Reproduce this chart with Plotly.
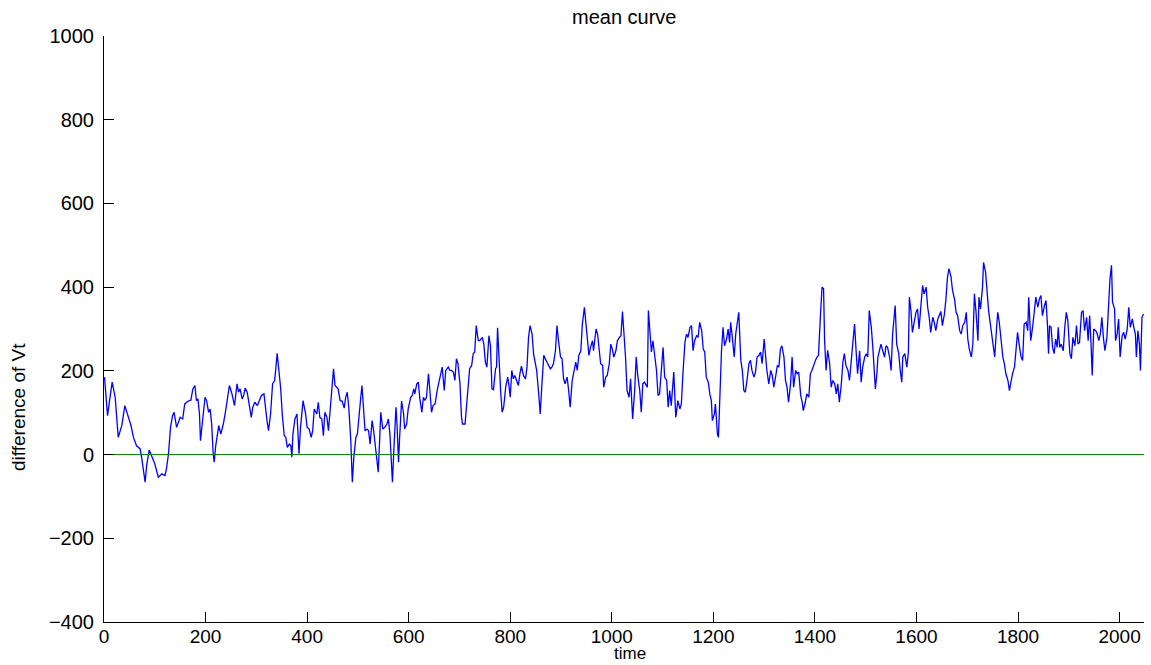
import plotly.graph_objects as go

# Sampled mean curve: time step and difference of Vt
time = [
    1, 7, 16, 22, 28, 35, 41, 48, 53, 58, 64, 71, 74, 81, 84, 89, 94, 100, 107, 114,
    120, 123, 127, 131, 135, 138, 143, 150, 155, 159, 166, 171, 175, 179,
    182, 185, 188, 190, 192, 199, 202, 206, 209, 212, 215, 217, 220, 223, 226, 230,
    235, 239, 243, 247, 252, 257, 262, 265, 268, 272, 275, 278, 282, 285, 290, 293,
    297, 302, 306, 310, 315, 318, 321, 324, 328, 332, 336, 338, 341, 345, 348, 351,
    355, 358, 361, 365, 368, 370, 372, 376,
    378, 380, 384, 387, 392, 397, 400, 404, 408, 411, 414, 419, 422, 425, 429, 432,
    435, 439, 442, 445, 448, 452, 455, 458, 461, 465, 469, 473, 476, 479, 482, 486,
    489, 492, 496, 499, 502, 506, 508, 511, 514, 518, 521, 524, 528, 531, 534, 537,
    540, 543, 545, 549,
    553, 557, 560, 563, 565, 568, 571, 575, 577, 580, 582, 586, 590, 592, 596, 599,
    604, 607, 610, 612, 616, 619, 622, 626, 629, 632, 635, 639, 642, 645, 648, 652,
    656, 660, 663, 666, 670, 673, 678, 681, 684, 688, 691, 694, 697, 701, 704, 706,
    711, 714, 717, 720, 724, 727, 730, 733,
    737, 740, 745, 748, 751, 754, 758, 761, 764, 767, 771, 773, 775, 778, 781, 784,
    787, 791, 795, 797, 800, 803, 806, 809, 813, 816, 819, 822, 826, 830, 833, 836,
    839, 843, 846, 849, 852, 856, 859, 862, 866, 869, 872, 875, 879, 882, 885, 889,
    892, 895, 899, 902, 905, 908, 912, 915, 918, 922, 925,
    929, 932, 935, 939, 942, 946, 949, 952, 955, 958, 962, 964, 969, 972, 975, 978,
    982, 984, 988, 991, 995, 998, 1001, 1004, 1008, 1011, 1015, 1018, 1021, 1024, 1027, 1030,
    1034, 1037, 1041, 1045, 1048, 1051, 1055, 1058, 1061, 1064, 1070, 1072, 1075, 1078, 1081, 1085,
    1088, 1091, 1094, 1098, 1101, 1104, 1108, 1111,
    1114, 1117, 1122, 1126, 1130, 1134, 1137, 1140, 1144, 1147, 1150, 1154, 1157, 1160, 1163, 1167,
    1170, 1173, 1177, 1180, 1183, 1186, 1190, 1193, 1196, 1198, 1202, 1204, 1208, 1210, 1213, 1216,
    1219, 1222, 1226, 1229, 1232, 1234, 1237, 1241, 1244, 1247, 1250, 1254, 1257, 1260, 1263, 1267,
    1270, 1273, 1276, 1280, 1283, 1286, 1290, 1293, 1296, 1300, 1303,
    1305, 1309, 1313, 1316, 1319, 1323, 1326, 1329, 1332, 1335, 1339, 1342, 1345, 1348, 1352, 1355,
    1358, 1362, 1365, 1368, 1372, 1375, 1377, 1381, 1384, 1388, 1391, 1394, 1398, 1401, 1404, 1407,
    1411, 1414, 1417, 1419, 1422, 1425, 1429, 1432, 1435, 1439, 1442, 1445, 1448, 1452, 1455, 1458,
    1461, 1465, 1468, 1471, 1474, 1478, 1481, 1484,
    1488, 1491, 1494, 1498, 1501, 1504, 1507, 1511, 1514, 1517, 1519, 1522, 1524, 1530, 1533, 1537,
    1540, 1543, 1547, 1550, 1553, 1558, 1561, 1565, 1568, 1571, 1573, 1577, 1581, 1584, 1586, 1589,
    1592, 1596, 1599, 1602, 1605, 1609, 1612, 1615, 1619, 1622, 1625, 1628, 1632, 1635, 1638, 1642,
    1645, 1648, 1651, 1655, 1658, 1661, 1664, 1668, 1671,
    1675, 1678, 1681, 1685, 1688, 1691, 1695, 1698, 1701, 1704, 1708, 1711, 1714, 1717, 1721, 1723,
    1726, 1730, 1732, 1736, 1739, 1742, 1745, 1749, 1752, 1754, 1758, 1760, 1763, 1766, 1770, 1773,
    1776, 1780, 1783, 1786, 1789, 1793, 1796, 1799, 1803, 1806, 1809, 1812, 1816, 1819, 1821, 1825,
    1829, 1832, 1835, 1839, 1842, 1845, 1848, 1852, 1855, 1858, 1860,
    1862, 1865, 1868, 1871, 1874, 1877, 1879, 1882, 1885, 1889, 1892, 1895, 1898, 1902, 1905, 1908,
    1912, 1915, 1918, 1921, 1925, 1928, 1931, 1935, 1938, 1941, 1944, 1946, 1949, 1953, 1956, 1959,
    1962, 1965, 1968, 1971, 1975, 1978, 1981, 1984, 1986, 1990, 1992, 1995, 1998, 2001, 2005, 2008,
    2011, 2015, 2018, 2021, 2025, 2028, 2031, 2033, 2036, 2039, 2041, 2044, 2047,
]

diff_vt = [
    185, 93, 173, 137, 41, 69, 117, 89, 70, 41, 21, 14, -6, -66, -26, 11, -6, -22, -54, -46,
    -50, -34, 2, 65, 93, 101, 65, 89, 85, 121, 128, 130, 157, 165,
    129, 133, 97, 33, 57, 137, 129, 101, 109, 73, 2, -18, 21, 41, 69, 49,
    73, 101, 133, 165, 145, 117, 169, 149, 157, 133, 141, 159, 149, 125, 89, 113,
    125, 117, 129, 141, 145, 109, 81, 57, 97, 169, 177, 201, 242, 193, 157, 97,
    45, 41, 17, 25, 21, -6, 49, 85,
    93, 97, 2, 65, 129, 97, 65, 61, 41, 57, 109, 97, 125, 89, 85, 45,
    101, 89, 57, 101, 137, 205, 165, 161, 157, 129, 128, 111, 137, 149, 113, 33,
    -66, -6, 41, 49, 97, 141, 165, 101, 57, 61, 57, 25, 81, 57, 25, -18,
    -42, 41, 101, 61,
    65, 73, 85, 49, -6, -66, 17, 113, 73, -18, 37, 128, 97, 61, 73, 109,
    137, 141, 157, 145, 169, 173, 133, 101, 137, 129, 137, 193, 149, 101, 117, 121,
    153, 177, 193, 209, 153, 201, 209, 201, 201, 197, 177, 229, 217, 169, 89, 73,
    73, 121, 177, 205, 213, 241, 245, 308,
    272, 272, 280, 264, 221, 209, 284, 260, 157, 155, 205, 209, 303, 209, 153, 101,
    113, 161, 185, 169, 137, 201, 181, 189, 177, 165, 193, 211, 189, 181, 209, 280,
    308, 288, 240, 217, 201, 145, 97, 161, 237, 229, 221, 213, 205, 209, 217, 248,
    308, 272, 233, 229, 181, 169, 185, 153, 113, 177, 201,
    221, 201, 237, 248, 312, 352, 312, 264, 237, 256, 272, 248, 300, 288, 252, 217,
    213, 161, 185, 189, 217, 264, 252, 233, 248, 272, 280, 284, 342, 296, 233, 153,
    137, 181, 85, 153, 233, 189, 153, 101, 169, 173, 161, 344, 296, 245, 272, 221,
    201, 141, 145, 209, 256, 185, 177, 113,
    153, 117, 197, 89, 129, 109, 121, 193, 268, 288, 280, 304, 308, 248, 272, 284,
    280, 316, 296, 252, 245, 185, 173, 145, 129, 81, 97, 121, 49, 41, 153, 248,
    304, 260, 276, 300, 268, 316, 284, 233, 288, 312, 340, 225, 201, 153, 149, 185,
    217, 225, 201, 185, 197, 233, 237, 245, 217, 276, 229,
    205, 169, 201, 189, 161, 189, 213, 209, 252, 260, 233, 177, 161, 125, 169, 233,
    161, 201, 193, 197, 141, 125, 105, 125, 145, 137, 193, 201, 217, 225, 233, 237,
    336, 400, 396, 272, 201, 249, 217, 161, 177, 169, 145, 169, 125, 169, 221, 241,
    213, 201, 177, 221, 260, 312, 249, 193,
    248, 173, 209, 233, 241, 233, 344, 304, 256, 193, 157, 193, 233, 264, 252, 233,
    260, 256, 233, 201, 288, 356, 264, 241, 201, 173, 233, 241, 209, 245, 376, 344,
    292, 320, 340, 348, 300, 360, 404, 384, 400, 352, 328, 292, 328, 316, 296, 324,
    336, 342, 308, 336, 372, 424, 444, 424, 392,
    370, 340, 332, 296, 288, 308, 316, 340, 276, 252, 233, 264, 384, 344, 272, 376,
    348, 400, 459, 436, 384, 344, 316, 284, 260, 233, 308, 340, 316, 272, 233, 217,
    193, 177, 153, 173, 193, 209, 248, 292, 256, 233, 225, 312, 316, 296, 376, 272,
    308, 336, 376, 352, 372, 380, 332, 356, 368, 308, 241,
    308, 304, 256, 241, 276, 256, 304, 256, 264, 248, 304, 340, 320, 241, 229, 280,
    260, 308, 264, 268, 340, 344, 296, 328, 272, 332, 256, 189, 300, 296, 288, 272,
    288, 328, 280, 248, 280, 352, 420, 452, 364, 348, 272, 288, 324, 233, 284, 292,
    276, 300, 352, 304, 324, 304, 288, 233, 296, 264, 201, 328, 336,
]

# Reference level drawn across the full time span
baseline_t = [0, 2048]
baseline_v = [0, 0]

x_ticks = [0, 200, 400, 600, 800, 1000, 1200, 1400, 1600, 1800, 2000]
y_ticks = [-400, -200, 0, 200, 400, 600, 800, 1000]

font_family = "Liberation Sans, Arial, Helvetica, sans-serif"

fig = go.Figure()
fig.add_trace(go.Scatter(
    x=time, y=diff_vt, mode="lines",
    line=dict(color="#0000ff", width=1.3),
    showlegend=False, hoverinfo="skip",
))
fig.add_trace(go.Scatter(
    x=baseline_t, y=baseline_v, mode="lines",
    line=dict(color="#008000", width=1),
    showlegend=False, hoverinfo="skip",
))

axis_common = dict(
    showgrid=False, zeroline=False,
    showline=True, linecolor="black", linewidth=1, mirror=False,
    ticks="inside", ticklen=10, tickcolor="black", tickwidth=1,
)

fig.update_xaxes(range=[0, 2048], tickvals=x_ticks, ticklabelstandoff=-3,
                 tickfont=dict(family=font_family, size=19, color="black"),
                 **axis_common)
fig.update_yaxes(range=[-400, 1000], tickvals=y_ticks, ticklabelstandoff=5,
                 tickfont=dict(family=font_family, size=20, color="black"),
                 **axis_common)

fig.update_layout(
    width=1151, height=665,
    margin=dict(l=104, r=7, t=36, b=43),
    paper_bgcolor="white", plot_bgcolor="white",
    font=dict(family=font_family, color="black"),
    annotations=[
        dict(text="mean curve", xref="paper", yref="paper", x=0.5, y=1,
             xanchor="center", yanchor="middle", yshift=19, showarrow=False,
             font=dict(size=20, family=font_family)),
        dict(text="time", xref="paper", yref="paper", x=0.506, y=0,
             xanchor="center", yanchor="bottom", yshift=-43, showarrow=False,
             font=dict(size=17, family=font_family)),
        dict(text="difference of Vt", xref="paper", yref="paper", x=0, y=0.5,
             xanchor="center", yanchor="middle", xshift=-86, yshift=-78,
             textangle=-90, showarrow=False,
             font=dict(size=19, family=font_family)),
    ],
)

fig.write_html("out.html")
